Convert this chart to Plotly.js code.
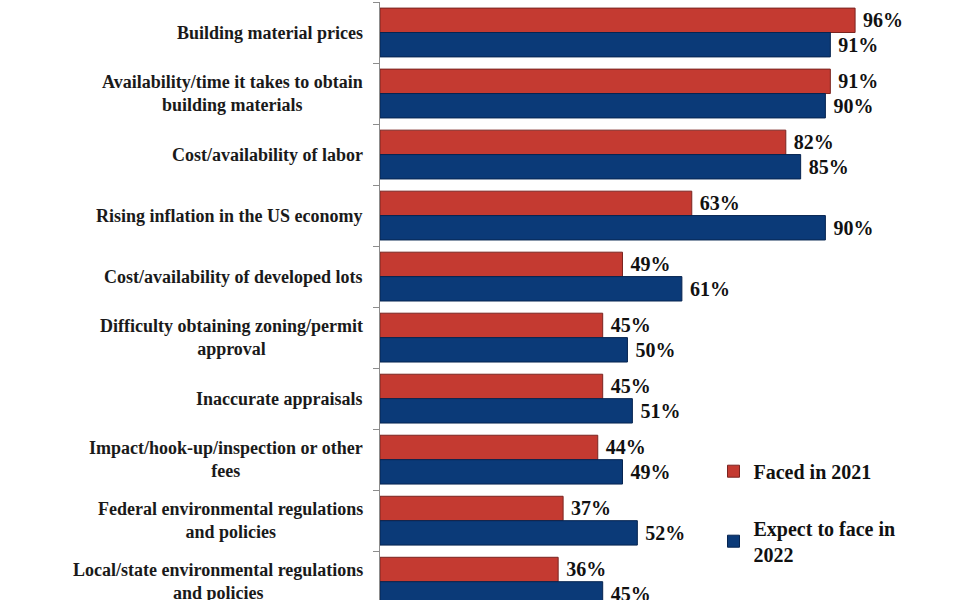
<!DOCTYPE html>
<html>
<head>
<meta charset="utf-8">
<script src="https://cdn.plot.ly/plotly-3.0.1.min.js"></script>
<style>html,body{margin:0;padding:0;background:#fff;}#chart{width:960px;height:600px;}</style>
</head>
<body>
<div id="chart"></div>
<script>
const categories = [
  "Building material prices",
  "Availability/time it takes to obtain<br>building materials",
  "Cost/availability of labor",
  "Rising inflation in the US economy",
  "Cost/availability of developed lots",
  "Difficulty obtaining zoning/permit<br>approval",
  "Inaccurate appraisals",
  "Impact/hook-up/inspection or other<br>fees",
  "Federal environmental regulations<br>and policies",
  "Local/state environmental regulations<br>and policies"
];
const faced2021 = [96, 91, 82, 63, 49, 45, 45, 44, 37, 36];
const expect2022 = [91, 90, 85, 90, 61, 50, 51, 49, 52, 45];
const seriesNames = ["Faced in 2021", "Expect to face in<br>2022"];

const FONT = "'Liberation Serif', 'Times New Roman', serif";
const labelFont = {family: FONT, size: 18, color: "#1a1a1a", weight: 700};

const traces = [
  {
    type: "bar", orientation: "h", name: seriesNames[0],
    y: categories, x: faced2021,
    marker: {color: "#C43A31", line: {color: "#7a2420", width: 1}},
    texttemplate: "\u00a0%{x}%", textposition: "outside", cliponaxis: false,
    textfont: {family: FONT, size: 20, color: "#111", weight: 700},
    legendgroup: "a", hoverinfo: "x+y"
  },
  {
    type: "bar", orientation: "h", name: seriesNames[1],
    y: categories, x: expect2022,
    marker: {color: "#0B3A78", line: {color: "#062450", width: 1}},
    texttemplate: "\u00a0%{x}%", textposition: "outside", cliponaxis: false,
    textfont: {family: FONT, size: 20, color: "#111", weight: 700},
    legendgroup: "b", hoverinfo: "x+y"
  }
];

const annotations = categories.map(c => ({
  xref: "paper", yref: "y", x: 0, y: c, xanchor: "right", yanchor: "middle",
  xshift: -15, text: c, showarrow: false, align: "center", font: labelFont
}));

const layout = {
  width: 960, height: 600,
  margin: {l: 380, r: 0, t: 2, b: 0, pad: 0},
  paper_bgcolor: "#fff", plot_bgcolor: "#fff",
  barmode: "group", bargap: 0.2, bargroupgap: 0,
  showlegend: true,
  legend: {
    x: 0.575, xanchor: "left", y: 0.248, yanchor: "top",
    font: {family: FONT, size: 20, color: "#111", weight: 700},
    traceorder: "grouped", tracegroupgap: 28, bgcolor: "rgba(0,0,0,0)"
  },
  xaxis: {range: [0, 117.2], visible: false, fixedrange: true},
  yaxis: {
    type: "category", range: [9.3, -0.5],
    showticklabels: false, showgrid: false, zeroline: false,
    showline: true, linecolor: "#8c8c8c", linewidth: 1,
    ticks: "outside", tickson: "boundaries", ticklen: 6, tickcolor: "#8c8c8c"
  },
  annotations: annotations
};

Plotly.newPlot("chart", traces, layout, {displayModeBar: false, staticPlot: true});
</script>
</body>
</html>
